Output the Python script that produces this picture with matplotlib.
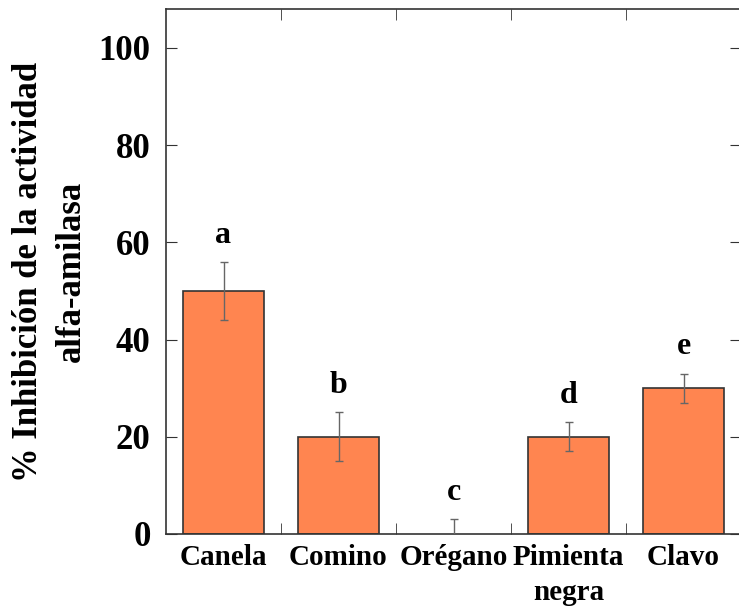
import numpy as np
import matplotlib.pyplot as plt
import matplotlib.transforms as mtrans

# data
especias = ["Canela", "Comino", "Orégano", "Pimienta\nnegra", "Clavo"]
inhibicion = [50, 20, 0, 20, 30]
error = [6, 5, 3, 3, 3]
letras = ["a", "b", "c", "d", "e"]

plt.rcParams['font.family'] = ['Liberation Serif', 'DejaVu Serif']
plt.rcParams['font.weight'] = 'bold'

fig = plt.figure(figsize=(7.39, 6.14), dpi=100)
ax = fig.add_axes([166/739, 1 - 534/614, 575/739, 525/614])

x = np.arange(len(especias))
# no outline for a zero-height bar
lw = [1.2 if v > 0 else 0 for v in inhibicion]
ax.bar(x, inhibicion, width=0.7, color='#FF8550', edgecolor='#333333', linewidth=lw, zorder=2)
ax.errorbar(x, inhibicion, yerr=error, fmt='none', ecolor='#666666',
            elinewidth=1, capsize=3, capthick=1, zorder=3)

# significance letters
for i in range(len(x)):
    ax.text(x[i], inhibicion[i] + error[i] + 2.5, letras[i], ha='center', va='bottom',
            fontsize=23, fontweight='bold')

ax.set_xlim(-0.5, 4.5)
ax.set_ylim(0, 108)
ax.set_yticks([0, 20, 40, 60, 80, 100])
ax.set_xticks(x)
ax.set_xticklabels(especias, fontsize=21, fontweight='bold', linespacing=1.4)
ax.set_xticks(x[:-1] + 0.5, minor=True)

# labels in the reference sit a little off-centre (shift in pixels)
offs_px = [-7, -2, 2, 10, 13]
for lbl, o in zip(ax.get_xticklabels(), offs_px):
    lbl.set_transform(lbl.get_transform() + mtrans.ScaledTranslation(o / 100, 0, fig.dpi_scale_trans))

for lbl in ax.get_yticklabels():
    lbl.set_fontsize(25)
    lbl.set_fontweight('bold')

ax.tick_params(axis='x', which='major', length=0, pad=7)
ax.tick_params(axis='x', which='minor', direction='in', length=8, top=True, bottom=True,
               color='#333333')
ax.tick_params(axis='y', direction='in', length=8, left=True, right=True, pad=11,
               color='#333333')

for s in ax.spines.values():
    s.set_color('#333333')
    s.set_linewidth(1.2)

ax.set_ylabel("% Inhibición de la actividad\nalfa-amilasa", fontsize=25,
              fontweight='bold', labelpad=8, linespacing=1.4)

plt.savefig("out.png", dpi=100)
